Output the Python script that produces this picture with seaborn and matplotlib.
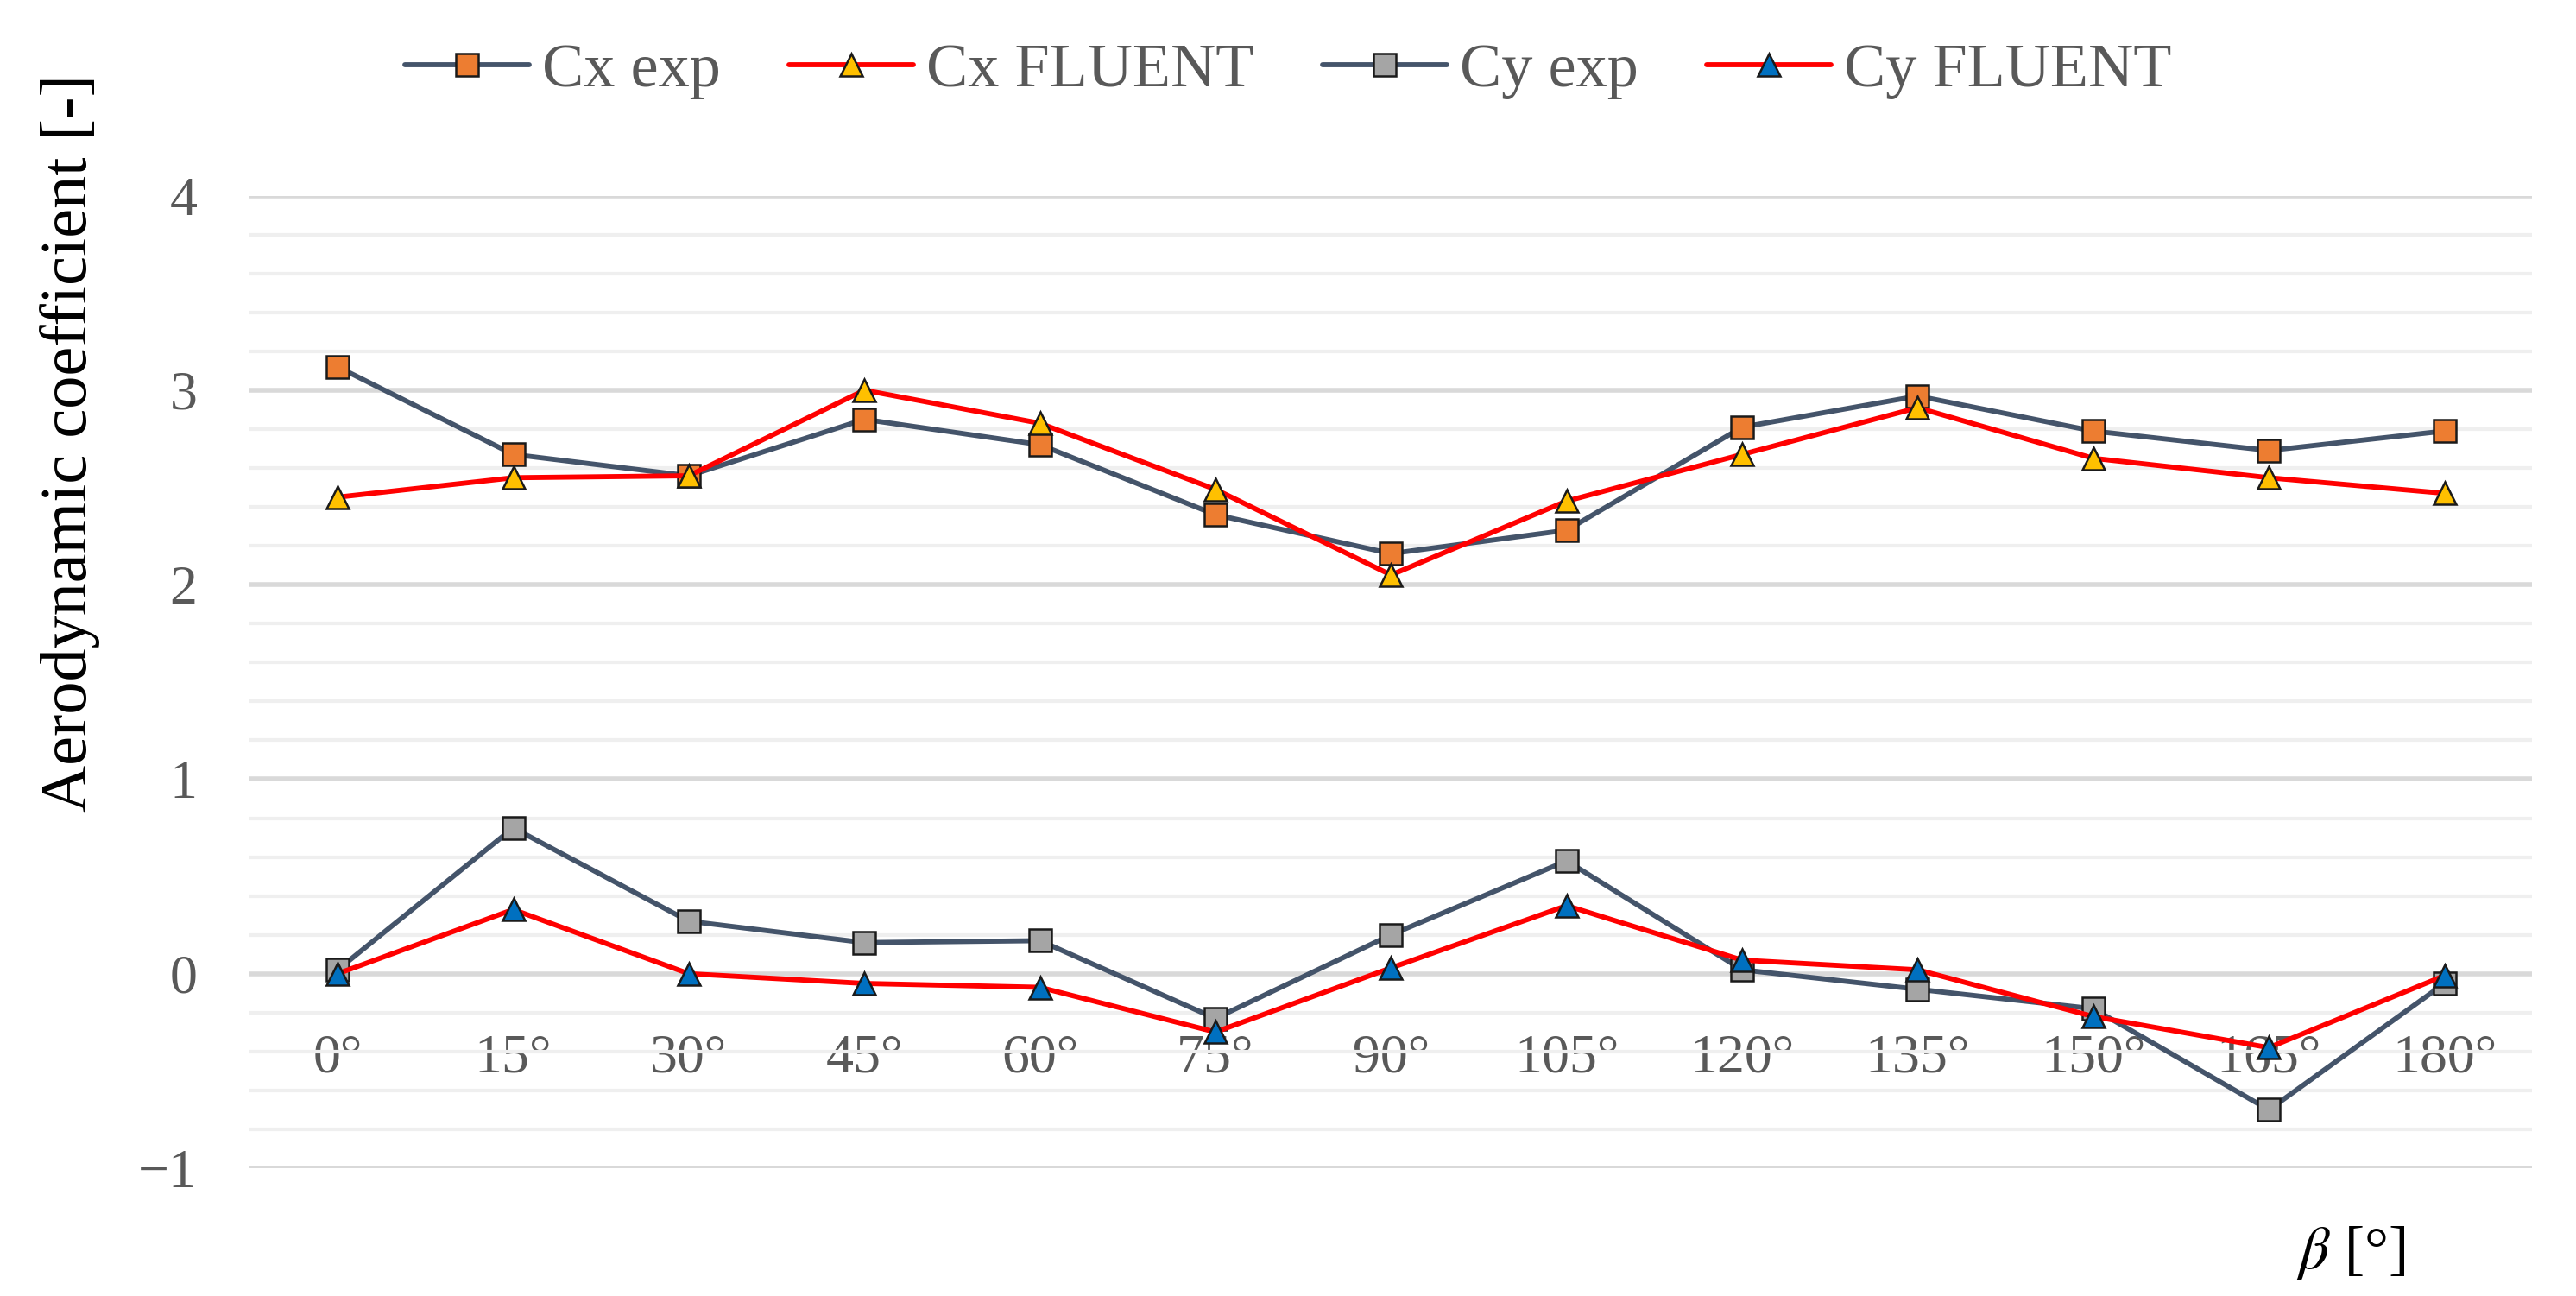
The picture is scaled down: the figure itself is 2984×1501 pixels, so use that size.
import numpy as np
import pandas as pd
import matplotlib
matplotlib.use("Agg")
import matplotlib.pyplot as plt
from matplotlib.ticker import MultipleLocator
import seaborn as sns

sns.set_theme(style="white")
plt.rcParams['font.family'] = ['Liberation Serif', 'DejaVu Serif']
plt.rcParams['mathtext.fontset'] = 'stix'

# values
angles = [0, 15, 30, 45, 60, 75, 90, 105, 120, 135, 150, 165, 180]
cx_exp = [3.12, 2.67, 2.56, 2.85, 2.72, 2.36, 2.16, 2.28, 2.81, 2.97, 2.79, 2.69, 2.79]
cx_fluent = [2.45, 2.55, 2.56, 3.00, 2.83, 2.49, 2.05, 2.43, 2.67, 2.91, 2.65, 2.55, 2.47]
cy_exp = [0.02, 0.75, 0.27, 0.16, 0.17, -0.23, 0.20, 0.58, 0.02, -0.08, -0.18, -0.70, -0.05]
cy_fluent = [0.00, 0.33, 0.00, -0.05, -0.07, -0.30, 0.03, 0.35, 0.07, 0.02, -0.22, -0.38, -0.01]
tick_labels = [f"{a}°" for a in angles]

df = pd.DataFrame({"beta": angles, "Cx exp": cx_exp, "Cx FLUENT": cx_fluent,
                   "Cy exp": cy_exp, "Cy FLUENT": cy_fluent})

# series name -> (line colour, marker, marker face)
styles = {
    "Cx exp": ("#44546A", "s", "#ED7D31"),
    "Cx FLUENT": ("#FF0000", "^", "#FFC000"),
    "Cy exp": ("#44546A", "s", "#A5A5A5"),
    "Cy FLUENT": ("#FF0000", "^", "#0070C0"),
}

fig, ax = plt.subplots(figsize=(14.92, 7.505), dpi=200)
fig.subplots_adjust(left=0.097, right=0.983, bottom=0.0986, top=0.849)

for name, (lc, mk, mf) in styles.items():
    sns.lineplot(data=df, x="beta", y=name, ax=ax, label=name, color=lc,
                 linewidth=2.1, marker=mk, markersize=9.5, markerfacecolor=mf,
                 markeredgecolor="#1a1a1a", markeredgewidth=0.9)

ax.set_xlim(-7.5, 187.5)
ax.set_ylim(-1, 4)
ax.yaxis.set_major_locator(MultipleLocator(1))
ax.yaxis.set_minor_locator(MultipleLocator(0.2))
ax.grid(which="major", axis="y", color="#D9D9D9", linewidth=2.0)
ax.grid(which="minor", axis="y", color="#EFEFEF", linewidth=1.5)
ax.grid(which="major", axis="x", visible=False)
ax.set_axisbelow(True)

for s in ["top", "right", "left"]:
    ax.spines[s].set_visible(False)
ax.spines["bottom"].set_position(("data", 0))
ax.spines["bottom"].set_visible(False)

ax.set_xticks(angles)
ax.set_xticklabels(tick_labels)
ax.set_yticks([-1, 0, 1, 2, 3, 4])
ax.set_yticklabels(["\u22121", "0", "1", "2", "3", "4"])
ax.tick_params(axis="x", length=0, pad=25, labelsize=23, colors="#595959")
ax.tick_params(axis="y", which="both", length=0, pad=22, labelsize=23, colors="#595959")

ax.set_xlabel("")
ax.set_ylabel("Aerodynamic coefficient [-]", fontsize=27.5, color="black")
ax.yaxis.set_label_coords(-0.079, 0.745)
ax.yaxis.label.set_verticalalignment("center")

fig.text(0.9126, 0.033, r"$\beta$ [°]", fontsize=25, color="black",
         ha="center", va="center")

handles, labels = ax.get_legend_handles_labels()
ax.get_legend().remove()
fig.legend(handles, labels, loc="center", bbox_to_anchor=(0.5, 0.945), ncol=4,
           frameon=False, fontsize=26, handlelength=2.0, handletextpad=0.2,
           columnspacing=1.1, labelcolor="#595959")

fig.savefig("out.png", dpi=200)
